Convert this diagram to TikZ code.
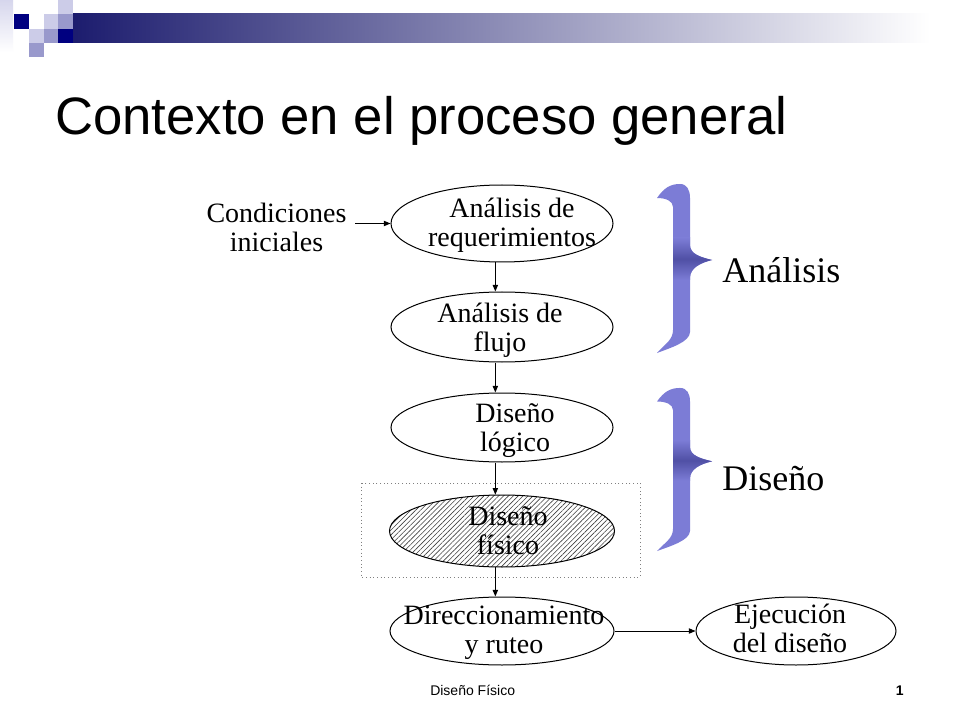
\documentclass[tikz,border=0pt]{standalone}
\usepackage{fontspec}
\setmainfont{Liberation Serif}
\setsansfont{Liberation Sans}
\usetikzlibrary{shapes.geometric,arrows.meta,patterns.meta}
\definecolor{navy}{RGB}{0,0,128}
\definecolor{barnavy}{RGB}{28,28,110}
\definecolor{lav}{RGB}{204,204,232}
\definecolor{medlav}{RGB}{153,153,204}
\definecolor{bracec}{RGB}{124,124,214}
\definecolor{bracedk}{RGB}{80,80,165}
\tikzset{
  oval/.style={draw=black, line width=0.75pt, ellipse, inner sep=0pt, fill=white},
  txt/.style={font=\fontsize{21}{21.75}\selectfont, align=center, inner sep=0pt},
  biglbl/.style={font=\fontsize{27}{30}\selectfont, inner sep=0pt, anchor=base west},
  arr/.style={line width=0.75pt, -{Triangle[length=5pt,width=4pt]}},
}
\newcommand{\bracepath}{%
  (657,15) .. controls (664,5) and (670,1) .. (680,1)
  .. controls (687,1) and (690,7) .. (690,15)
  -- (690,62)
  .. controls (690,71) and (700,74) .. (712,77)
  .. controls (700,80) and (690,85) .. (690,95)
  -- (690,149)
  .. controls (690,159) and (670,165) .. (657,170)
  .. controls (665,161) and (673,157) .. (673,147)
  -- (673,24)
  .. controls (673,18) and (666,15) .. (657,15) -- cycle}
\newcommand{\drawbrace}[2]{%
  \begin{scope}[shift={(0,#1)}, yscale=#2]
    \fill[bracec] \bracepath;
    \begin{scope}
      \clip \bracepath;
      \shade[top color=bracec, bottom color=bracec, middle color=bracedk] (650,55) rectangle (715,97);
    \end{scope}
  \end{scope}}
\begin{document}
\begin{tikzpicture}[x=0.75pt,y=-0.75pt]
\useasboundingbox (0,0) rectangle (960,720);
\fill[white] (0,0) rectangle (960,720);

% header decoration
\shade[top color=lav!80, bottom color=white] (0,0) rectangle (13,52);
\shade[left color=barnavy, right color=white] (72,14) rectangle (930,43);
\fill[navy] (58,29) rectangle (73,43);
\fill[lav] (58,0) rectangle (72.5,14.5);
\fill[navy] (14,14.5) rectangle (29,29);
\fill[lav] (43.5,14.5) rectangle (58,29);
\fill[medlav] (58,14.5) rectangle (72.5,29);
\fill[lav] (29,29) rectangle (43.5,43.5);
\fill[medlav] (43.5,29) rectangle (58,43.5);
\fill[medlav] (29,43.5) rectangle (43.5,57.5);

% title
\node[anchor=base west, inner sep=0pt, font=\sffamily\fontsize{39.5}{44}\selectfont] (title) at (55,135) {Contexto en el proceso general};

% dotted frame
\draw[gray, line width=0.75pt, dotted] (361,483) rectangle (640,577);

% ellipses
\node[oval, minimum width=222*0.75pt, minimum height=77*0.75pt] (e1) at (502,223.5) {};
\node[oval, minimum width=222*0.75pt, minimum height=70*0.75pt] (e2) at (502,327) {};
\node[oval, minimum width=222*0.75pt, minimum height=69*0.75pt] (e3) at (502,427.5) {};
\node[oval, minimum width=225*0.75pt, minimum height=72*0.75pt,
      pattern={Lines[angle=45,distance=2.6pt,line width=0.45pt]}, pattern color=black!75] (e4) at (502,531) {};
\node[oval, minimum width=224*0.75pt, minimum height=68*0.75pt] (e5) at (502,631) {};
\node[oval, minimum width=200*0.75pt, minimum height=68*0.75pt] (e6) at (796,631) {};

% texts
\node[txt] (tcond) at (276.5,231) {\strut Condiciones\\\strut iniciales};
\node[txt] (t1) at (512,226.7) {\strut Análisis de\\\strut requerimientos};
\node[txt] (t2) at (500,331.5) {\strut Análisis de\\\strut flujo};
\node[txt] (t3) at (515,431.5) {\strut Diseño\\\strut lógico};
\node[txt] (t4) at (508,534) {\strut Diseño\\\strut físico};
\node[txt] (t5) at (504,633.5) {\strut Direccionamiento\\\strut y ruteo};
\node[txt] (t6) at (790,632) {\strut Ejecución\\\strut del diseño};

% connectors
\coordinate (cs) at (355,223.5);
\draw[arr] (cs) -- (e1.west);
\draw[arr] ([xshift=-5pt]e1.south) -- ([xshift=-5pt]e2.north);
\draw[arr] ([xshift=-5pt]e2.south) -- ([xshift=-5pt]e3.north);
\draw[arr] ([xshift=-5pt]e3.south) -- ([xshift=-5pt]e4.north);
\draw[arr] ([xshift=-5pt]e4.south) -- ([xshift=-5pt]e5.north);
\draw[arr] (e5.east) -- (e6.west);

% braces
\drawbrace{183}{1}
\drawbrace{387}{0.965}
\node[biglbl] (lan) at (722,282) {Análisis};
\node[biglbl] (ldi) at (722,490) {Diseño};

% footer
\node[anchor=base west, inner sep=0pt, font=\sffamily\fontsize{10.5}{12}\selectfont] (foot) at (430,695) {Diseño Físico};
\node[anchor=base east, inner sep=0pt, font=\sffamily\bfseries\fontsize{10.5}{12}\selectfont] (pnum) at (904,695) {1};
\end{tikzpicture}
\end{document}
